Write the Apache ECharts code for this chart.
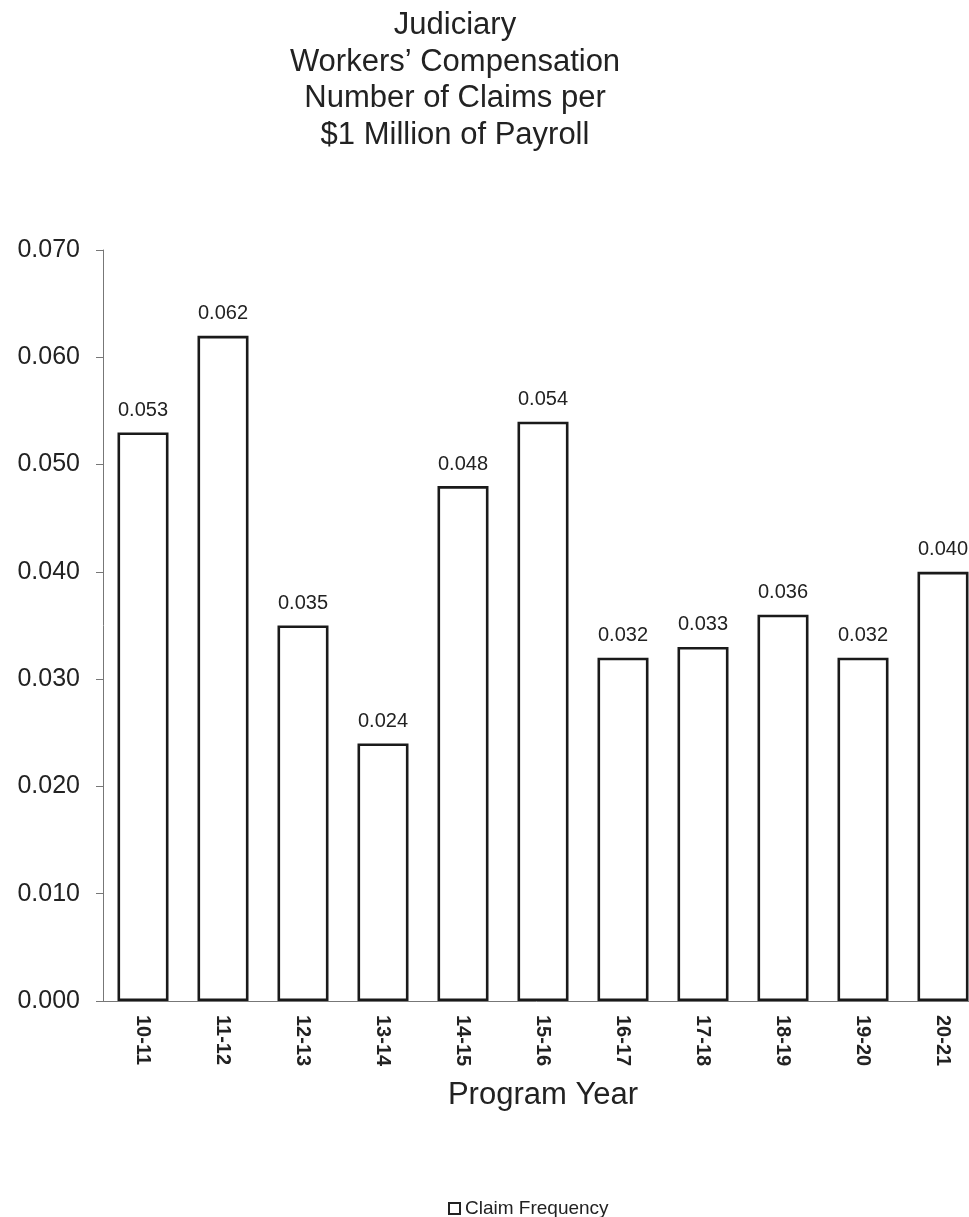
<!DOCTYPE html>
<html>
<head>
<meta charset="utf-8">
<script src="https://cdn.jsdelivr.net/npm/echarts@6/dist/echarts.min.js"></script>
<style>
html,body{margin:0;padding:0;background:#fff;}
#chart{width:969px;height:1217px;}
</style>
</head>
<body>
<div id="chart"></div>
<script>
const categories = ['10-11','11-12','12-13','13-14','14-15','15-16','16-17','17-18','18-19','19-20','20-21'];
const claimFrequency = [0.053,0.062,0.035,0.024,0.048,0.054,0.032,0.033,0.036,0.032,0.040];
const titleLines = ['Judiciary','Workers\u2019 Compensation','Number of Claims per','$1 Million of Payroll'];
const seriesName = 'Claim Frequency';
const xAxisName = 'Program Year';

const FONT = '"Liberation Sans", Arial, sans-serif';
const chart = echarts.init(document.getElementById('chart'));
chart.setOption({
  backgroundColor: '#fff',
  animation: false,
  title: {
    text: titleLines.join('\n'),
    left: 455, top: 7, textAlign: 'center', padding: 0,
    textStyle: { fontFamily: FONT, fontSize: 31, lineHeight: 36.7, fontWeight: 'normal', color: '#222' }
  },
  legend: {
    data: [seriesName],
    left: 443, top: 1194,
    icon: 'rect', itemWidth: 11, itemHeight: 11,
    itemStyle: { color: '#fff', borderColor: '#222', borderWidth: 2 },
    textStyle: { fontFamily: FONT, fontSize: 19, color: '#222' }
  },
  grid: { left: 103, top: 250, width: 880, height: 751, containLabel: false, outerBoundsMode: 'none' },
  xAxis: {
    type: 'category',
    data: categories,
    name: xAxisName,
    nameLocation: 'middle',
    nameGap: 79,
    nameTextStyle: { fontFamily: FONT, fontSize: 31, color: '#222' },
    axisLine: { lineStyle: { color: '#777', width: 1 } },
    axisTick: { show: false },
    axisLabel: { rotate: -90, margin: 14, fontFamily: FONT, fontSize: 20, fontWeight: 'bold', color: '#222' }
  },
  yAxis: {
    type: 'value',
    min: 0, max: 0.07, interval: 0.01,
    axisLine: { show: true, lineStyle: { color: '#777', width: 1 } },
    axisTick: { show: true, length: 7, lineStyle: { color: '#777' } },
    splitLine: { show: false },
    axisLabel: { margin: 23, fontFamily: FONT, fontSize: 25, color: '#222', formatter: v => v.toFixed(3) }
  },
  series: [{
    name: seriesName,
    type: 'bar',
    data: claimFrequency,
    barWidth: 51,
    itemStyle: { color: '#fff', borderColor: '#1a1a1a', borderWidth: 2.6 },
    label: {
      show: true, position: 'top', distance: 12,
      fontFamily: FONT, fontSize: 20, color: '#222',
      formatter: p => p.value.toFixed(3)
    }
  }]
});
</script>
</body>
</html>
